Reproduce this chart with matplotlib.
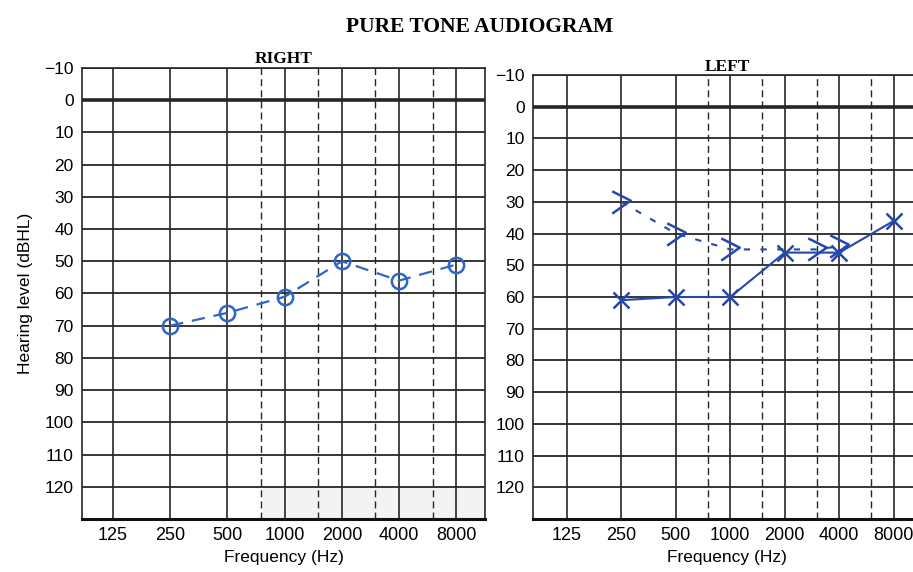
import matplotlib
matplotlib.use("Agg")
import matplotlib.pyplot as plt
from matplotlib.path import Path
import numpy as np

# ---- data ----
freq_ticks = [125, 250, 500, 1000, 2000, 4000, 8000]
freq_tick_labels = ["125", "250", "500", "1000", "2000", "4000", "8000"]
half_octaves = [750, 1500, 3000, 6000]
db_ticks = list(range(-10, 121, 10))
db_tick_labels = ["\u221210"] + [str(v) for v in range(0, 121, 10)]

right_air_freq = [250, 500, 1000, 2000, 4000, 8000]
right_air_db = [70, 66, 61, 50, 56, 51]

left_air_freq = [250, 500, 1000, 2000, 4000, 8000]
left_air_db = [61, 60, 60, 46, 46, 36]

left_bone_freq = [250, 500, 1000, 3000, 4000]
left_bone_db = [30, 40, 45, 45, 44]

SANS = ["Liberation Sans Narrow", "Liberation Sans", "DejaVu Sans"]
SERIF = ["Liberation Serif", "DejaVu Serif"]
GRID = "#262626"

fig = plt.figure(figsize=(9.13, 5.72), dpi=100)

def setup(ax, title, title_y):
    ax.set_xscale("log", base=2)
    ax.set_ylim(130, -10)
    ax.set_xticks(freq_ticks)
    ax.set_xticklabels(freq_tick_labels, family=SANS, fontsize=13)
    ax.xaxis.set_minor_locator(matplotlib.ticker.NullLocator())
    ax.set_yticks(db_ticks)
    ax.set_yticklabels(db_tick_labels, family=["Liberation Sans", "DejaVu Sans"], fontsize=12.5)
    ax.tick_params(length=0, pad=6)
    for f in freq_ticks:
        ax.axvline(f, color=GRID, lw=1.2, zorder=1)
    for f in half_octaves:
        ax.axvline(f, color=GRID, lw=1.0, ls=(0, (5, 3)), zorder=1)
    for d in db_ticks:
        ax.axhline(d, color=GRID, lw=1.3 if d != 0 else 2.6, zorder=1)
    for s in ["left", "top", "right"]:
        ax.spines[s].set_color(GRID)
        ax.spines[s].set_linewidth(1.2)
    ax.spines["bottom"].set_linewidth(2.2)
    ax.spines["bottom"].set_color("#111111")
    ax.set_xlabel("Frequency (Hz)", family=["Liberation Sans", "DejaVu Sans"], fontsize=12.5, labelpad=4)
    ax.set_title(title, family=SERIF, fontweight="bold", fontsize=12.5, y=title_y, pad=0)

# Right panel
axR = fig.add_axes([82 / 913, 1 - 519 / 572, 403 / 913, (519 - 68) / 572])
axR.set_xlim(125 * 2 ** -0.54, 125 * 2 ** 6.5)
setup(axR, "RIGHT", 1.01)
axR.axhspan(120, 130, xmin=0.45, xmax=1, color="#f3f3f3", zorder=0)
axR.set_ylabel("Hearing level (dBHL)", family=["Liberation Sans", "DejaVu Sans"], fontsize=12.5, labelpad=8)

# Left panel
axL = fig.add_axes([533 / 913, 1 - 519 / 572, 388 / 913, (519 - 75) / 572])
axL.set_xlim(125 * 2 ** -0.62, 125 * 2 ** 6.5)
setup(axL, "LEFT", 1.01)

# Right ear: air conduction, circles, dashed
blueR = "#2f66c4"
axR.plot(right_air_freq, right_air_db, color=blueR, lw=1.6, ls=(0, (6, 4)),
         marker="o", ms=11, mfc="none", mec=blueR, mew=1.8, zorder=5)

# Left ear: air conduction, X, solid
blueL = "#2448ab"
axL.plot(left_air_freq, left_air_db, color=blueL, lw=1.5, ls="-",
         marker="x", ms=11, mew=1.8, zorder=5)

# Left ear: bone conduction, ">" chevrons, short dashes
chevron = Path([(-0.5, 0.6), (0.5, 0.1), (-0.5, -0.6)],
               [Path.MOVETO, Path.LINETO, Path.LINETO])
axL.plot(left_bone_freq, left_bone_db, color=blueL, lw=1.5, ls=(0, (3, 5)),
         marker=chevron, ms=16, mfc="none", mec=blueL, mew=1.8, zorder=5)

fig.text(480 / 913, 1 - 27 / 572, "PURE TONE AUDIOGRAM", family=SERIF,
         fontweight="bold", fontsize=15.5, ha="center", va="center")

fig.savefig("out.png", dpi=100)
